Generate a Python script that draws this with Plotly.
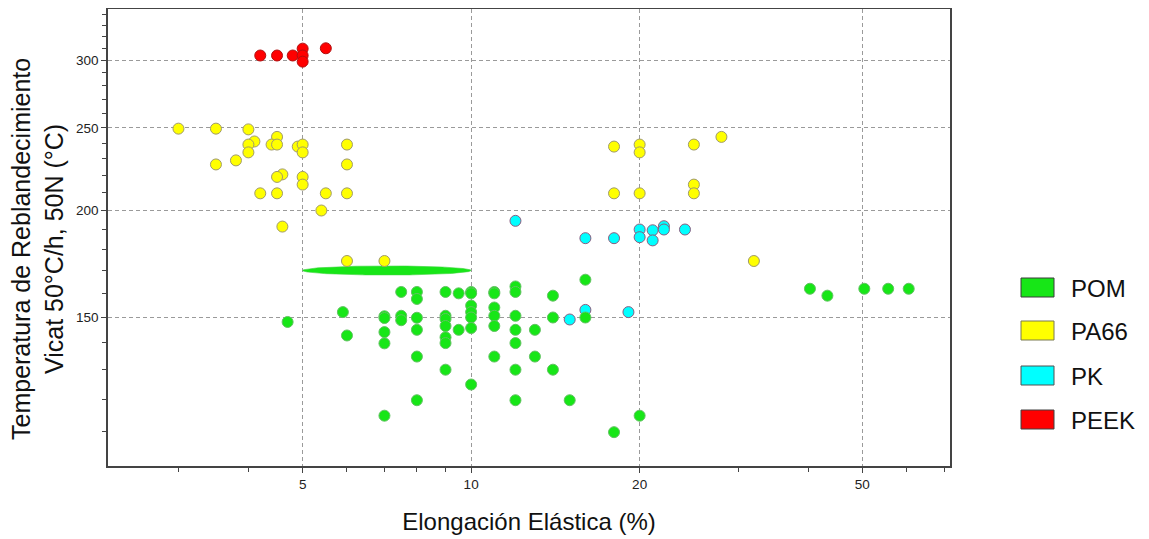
import numpy as np
import plotly.graph_objects as go

# ---------------- data ----------------
pom_x = [4.7, 5.9, 6.0, 7.0, 7.0, 7.0, 7.0, 7.0, 7.5, 7.5, 7.5,
         8.0, 8.0, 8.0, 8.0, 8.0, 8.0,
         9.0, 9.0, 9.0, 9.0, 9.0, 9.0, 9.0, 9.5, 9.5,
         10.0, 10.0, 10.0, 10.0, 10.0, 10.0, 10.0,
         11.0, 11.0, 11.0, 11.0, 11.0, 11.0,
         12.0, 12.0, 12.0, 12.0, 12.0, 12.0, 12.0,
         13.0, 13.0, 14.0, 14.0, 14.0, 15.0, 16.0, 16.0, 18.0, 20.0,
         40.3, 43.3, 50.4, 55.6, 60.5]
pom_y = [148.0, 152.0, 142.7, 150.3, 149.6, 144.0, 139.7, 114.9, 160.5, 150.5, 148.7,
         160.5, 157.5, 149.7, 144.9, 134.8, 119.8,
         160.5, 150.5, 149.2, 146.4, 142.0, 139.8, 130.1, 159.9, 144.9,
         160.5, 159.9, 154.7, 152.0, 149.8, 145.6, 125.0,
         160.5, 159.9, 153.9, 150.5, 146.4, 134.8,
         162.9, 160.5, 150.5, 144.9, 139.8, 130.1, 119.8,
         144.9, 134.8, 158.9, 149.8, 130.1, 119.8, 165.9, 149.8, 109.9, 114.9,
         161.9, 158.9, 161.9, 161.9, 161.9]

pa66_x = [3.0, 3.5, 4.0, 4.5, 4.1, 4.0, 4.4, 4.5, 4.9, 5.0, 5.0, 6.0, 4.0,
          3.5, 3.8, 6.0, 4.6, 4.5, 5.0, 5.0, 4.2, 4.5, 5.5, 6.0, 5.4, 4.6,
          6.0, 7.0, 18.0, 20.0, 20.0, 25.0, 28.0, 25.0, 25.0, 18.0, 20.0, 32.0]
pa66_y = [249.5, 249.5, 249.0, 244.0, 241.0, 239.0, 239.0, 239.0, 237.7, 239.0, 234.0, 239.0, 234.0,
          226.5, 229.0, 226.5, 220.5, 219.0, 219.0, 214.5, 209.5, 209.5, 209.5, 209.5, 200.0, 191.5,
          174.5, 174.5, 237.7, 239.0, 234.0, 239.0, 244.0, 214.5, 209.5, 209.5, 209.5, 174.5]

pk_x = [12.0, 16.0, 18.0, 20.0, 20.0, 21.1, 21.1, 22.1, 22.1, 24.1, 15.0, 16.0, 19.1]
pk_y = [194.5, 185.6, 185.6, 190.0, 186.1, 189.6, 184.5, 191.7, 190.0, 190.0, 149.0, 152.9, 152.0]

peek_x = [4.2, 4.5, 4.8, 5.0, 5.0, 5.0, 5.5]
peek_y = [304.0, 304.0, 304.0, 309.7, 304.0, 299.0, 310.0]

# POM range ellipse (elongation span, temperature span)
ell_x = [5.0, 10.0]
ell_y = [168.0, 172.2]

series_names = ["POM", "PA66", "PK", "PEEK"]
x_ticks = [5, 10, 20, 50]
y_ticks = [150, 200, 250, 300]
x_minor = [3, 4, 6, 7, 8, 9, 30, 40, 60, 70]
y_minor = [110, 120, 130, 140, 160, 170, 180, 190, 210, 220, 230, 240, 260, 270, 280, 290, 310, 320, 330, 340]

x_title = "Elongación Elástica (%)"
y_title = "Temperatura de Reblandecimiento<br>Vicat 50°C/h, 50N (°C)"

# ---------------- styles ----------------
FONT = "Arial, Liberation Sans, sans-serif"
fills = {"POM": "#17e617", "PA66": "#ffff00", "PK": "#00ffff", "PEEK": "#ff0000"}
edges = {"POM": "#62c262", "PA66": "#a09a6a", "PK": "#8c5c80", "PEEK": "#b01010"}
legend_edges = {"POM": "#3a3a3a", "PA66": "#7a7a50", "PK": "#505050", "PEEK": "#404040"}

# page has an 8px body margin; size the figure to fit the window
OFF = 8
W, H = 1149 - OFF, 539 - OFF
ml, mr, mt, mb = 100, 199, 1, 73
pw, ph = W - ml - mr, H - mt - mb


def px_x(p):  # window px -> paper
    return (p - OFF - ml) / pw


def px_y(p):  # window px -> paper
    return (H - mb - (p - OFF)) / ph


fig = go.Figure()

# ellipse drawn in log space
t = np.linspace(0, 2 * np.pi, 200)
lx0, lx1 = np.log10(ell_x[0]), np.log10(ell_x[1])
ly0, ly1 = np.log10(ell_y[0]), np.log10(ell_y[1])
ex = 10 ** ((lx0 + lx1) / 2 + (lx1 - lx0) / 2 * np.cos(t))
ey = 10 ** ((ly0 + ly1) / 2 + (ly1 - ly0) / 2 * np.sin(t))
fig.add_trace(go.Scatter(x=ex, y=ey, mode="lines", fill="toself",
                         fillcolor=fills["POM"], line=dict(color="#3cd43c", width=0.6),
                         hoverinfo="skip", showlegend=False))

data = {"POM": (pom_x, pom_y), "PA66": (pa66_x, pa66_y), "PK": (pk_x, pk_y), "PEEK": (peek_x, peek_y)}
for name in ["PA66", "PK", "POM", "PEEK"]:
    xs, ys = data[name]
    fig.add_trace(go.Scatter(x=xs, y=ys, mode="markers", name=name, showlegend=False,
                             marker=dict(size=11, color=fills[name],
                                         line=dict(color=edges[name], width=1))))

# manual legend (rectangular swatches)
box_tops = [278, 321, 366, 410]
for name, top in zip(series_names, box_tops):
    fig.add_shape(type="rect", xref="paper", yref="paper",
                  x0=px_x(1021), x1=px_x(1054), y0=px_y(top + 19), y1=px_y(top),
                  fillcolor=fills[name], line=dict(color=legend_edges[name], width=1))
    fig.add_annotation(xref="paper", yref="paper", x=px_x(1069), y=px_y(top + 10),
                       text=name, showarrow=False, xanchor="left", yanchor="middle",
                       font=dict(family=FONT, size=24, color="#111"))

# y-axis title as rotated annotation
fig.add_annotation(xref="paper", yref="paper", x=px_x(37), y=px_y(249),
                   text=y_title, showarrow=False, textangle=-90,
                   xanchor="center", yanchor="middle",
                   font=dict(family=FONT, size=25, color="#111"))

axis_common = dict(type="log", showline=True, linecolor="#444", linewidth=1.5, mirror=True,
                   ticks="outside", ticklen=5, tickcolor="#444", tickwidth=1,
                   showgrid=True, gridcolor="#9a9a9a", gridwidth=1, griddash="4px,3px",
                   zeroline=False, tickfont=dict(family=FONT, size=13.5, color="#222"))

fig.update_xaxes(**axis_common, range=[np.log10(2.245), np.log10(71.7)],
                 tickmode="array", tickvals=x_ticks, ticktext=[str(v) for v in x_ticks],
                 minor=dict(tickmode="array", tickvals=x_minor, ticks="outside", ticklen=4,
                            tickcolor="#444", showgrid=False),
                 title=dict(text=x_title, standoff=22,
                            font=dict(family=FONT, size=24, color="#111")))
fig.update_yaxes(**axis_common, range=[np.log10(100.3), np.log10(344.7)],
                 tickmode="array", tickvals=y_ticks, ticktext=[str(v) for v in y_ticks],
                 minor=dict(tickmode="array", tickvals=y_minor, ticks="outside", ticklen=4,
                            tickcolor="#444", showgrid=False))

fig.update_layout(width=W, height=H, autosize=False,
                  margin=dict(l=ml, r=mr, t=mt, b=mb, autoexpand=False),
                  paper_bgcolor="white", plot_bgcolor="white",
                  font=dict(family=FONT), showlegend=False)

fig.write_html("out.html")
